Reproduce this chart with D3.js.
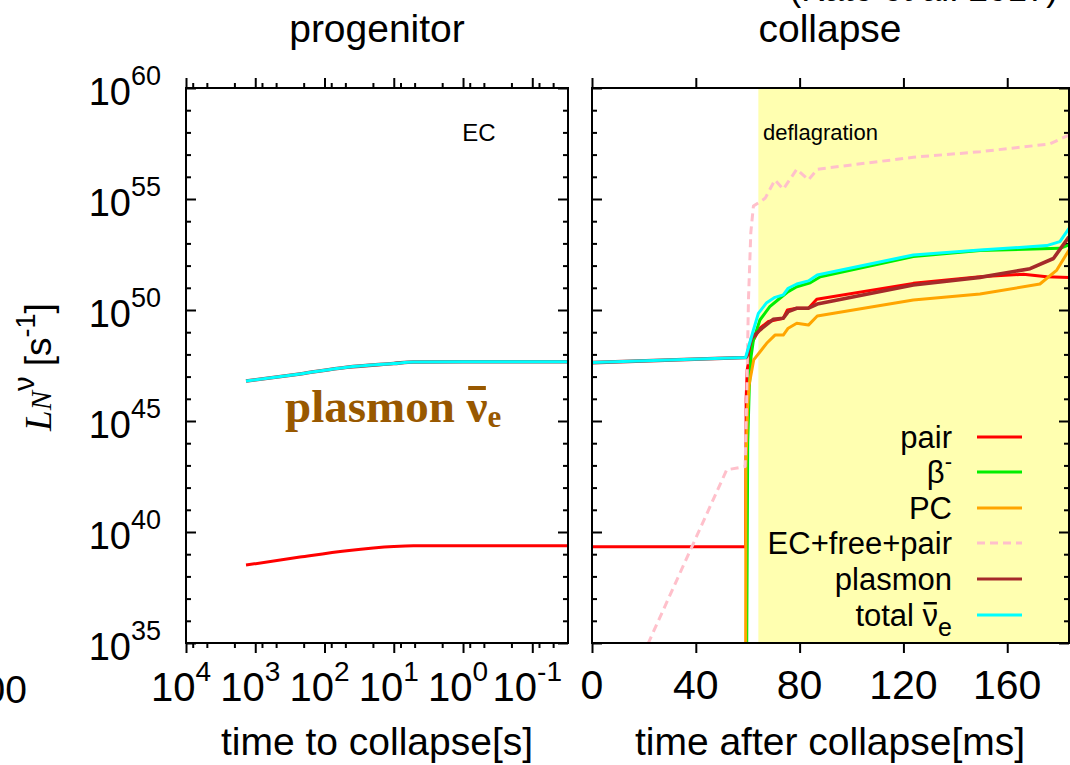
<!DOCTYPE html>
<head>
  <meta charset="utf-8">
  <title>anti-nu_e luminosity</title>
  <style>
    body { margin: 0; background: #fff; }
    svg { display: block; }
    text { font-family: "Liberation Sans", Arial, sans-serif; fill: #000; }
    .serif { font-family: "Liberation Serif", "Times New Roman", serif; }
  </style>
</head>

<body>
  <div id="chart"></div>

  <script src="https://cdn.jsdelivr.net/npm/d3@7"></script>
  <script type="text/javascript">

    // ---------------- data (luminosities given as log10 of L [s^-1]) ----------------
    // progenitor panel, x = time to collapse [s]
    let progTime     = [1360, 226, 47.5, 10, 5.2, 1, 0.0305];
    let progPair     = [38.51, 38.87, 39.16, 39.35, 39.38, 39.38, 39.38];
    let progPlasmon  = [46.80, 47.12, 47.42, 47.59, 47.66, 47.67, 47.67];
    let progTotal    = [46.80, 47.12, 47.42, 47.59, 47.66, 47.67, 47.67];

    // collapse panel, [time after collapse (ms), log10 L]
    let pairCol = [[0, 39.34], [59.2, 39.34], [59.4, 46.0], [59.8, 47.3], [61.5, 48.5], [64.7, 49.18],
                   [68.0, 49.48], [73.7, 49.63], [75.3, 50.0], [78.9, 50.08], [83.4, 50.08], [86.6, 50.48],
                   [123.8, 51.2], [149.5, 51.5], [166.2, 51.61], [175.2, 51.5], [183.8, 51.46]];
    let betaCol = [[59.6, 34.5], [60.0, 44.0], [60.6, 46.5], [61.3, 47.9], [62.2, 48.65], [64.7, 49.55],
                   [68.5, 50.15], [72.4, 50.53], [75.6, 50.83], [78.9, 51.05], [84.1, 51.23], [88.0, 51.5],
                   [123.8, 52.41], [149.5, 52.68], [180.3, 52.78], [183.8, 52.93]];
    let pcCol   = [[59.2, 34.5], [59.3, 42.9], [59.9, 45.5], [60.5, 46.6], [62.3, 47.75], [67.3, 48.5],
                   [70.5, 48.87], [73.7, 48.87], [75.6, 49.18], [78.9, 49.4], [83.4, 49.32], [86.8, 49.73],
                   [123.8, 50.45], [149.5, 50.72], [172.6, 51.17], [179.1, 51.8], [183.8, 52.7]];
    let ecCol   = [[19.5, 34.43], [51.9, 42.8], [59.0, 42.95], [59.6, 46.0], [60.3, 50.5], [61.2, 53.5],
                   [62.2, 54.68], [66.7, 55.03], [70.5, 55.86], [73.7, 55.44], [78.9, 56.34], [83.4, 55.86],
                   [86.8, 56.34], [123.8, 56.88], [149.5, 57.13], [176.4, 57.48], [183.8, 57.88]];
    let plasmonCol = [[0, 47.63], [59.2, 47.86], [59.6, 47.9], [61.5, 48.73], [64.7, 49.1], [69.8, 49.58],
                   [73.7, 49.63], [75.6, 49.93], [78.9, 50.08], [83.4, 50.08], [86.8, 50.27], [123.8, 51.13],
                   [149.5, 51.47], [168.8, 51.86], [177.8, 52.32], [183.8, 53.3]];
    let totalCol = [[0, 47.63], [59.2, 47.86], [62.2, 49.1], [64.1, 49.85], [67.3, 50.33], [70.5, 50.57],
                   [73.7, 50.68], [75.6, 50.98], [78.9, 51.17], [83.4, 51.31], [86.8, 51.58], [123.8, 52.48],
                   [149.5, 52.7], [175.2, 52.9], [180.3, 53.08], [183.8, 53.68]];

    let deflagStart = 64.1;   // ms, shaded region start
    let deflagEnd = 183.8;

    let yExpTicks = [35, 40, 45, 50, 55, 60];
    let progTickExp = [4, 3, 2, 1, 0, -1];
    let colTicks = [0, 40, 80, 120, 160];

    let legendNames = ["pair", "β", "PC", "EC+free+pair", "plasmon", "total"];
    let legendColors = ["#ff0000", "#00ee00", "#ffa500", "#ffc0cb", "#a52a2a", "#00ffff"];

    ////////////////////////////////////////////////////////////////////////////////////////////////////
    let pow = e => Math.pow(10, e);

    let svg = d3.select("#chart").append("svg")
       .attr("width", 1070)
       .attr("height", 765);

    let yTop = 88, yBot = 643;
    let y = d3.scaleLog().domain([1e35, 1e60]).range([yBot, yTop]);
    let xProg = d3.scaleLog().domain([1e4, 0.0305]).range([186, 568]);
    let xCol = d3.scaleLinear().domain([0, 183.8]).range([592, 1069]);

    // clip paths
    let defs = svg.append("defs");
    defs.append("clipPath").attr("id", "clipProg").append("rect")
        .attr("x", 186).attr("y", yTop).attr("width", 382).attr("height", yBot - yTop);
    defs.append("clipPath").attr("id", "clipCol").append("rect")
        .attr("x", 592).attr("y", yTop).attr("width", 477).attr("height", yBot - yTop);

    // yellow deflagration region
    svg.append("rect")
        .attr("x", xCol(deflagStart)).attr("y", yTop)
        .attr("width", xCol(deflagEnd) - xCol(deflagStart)).attr("height", yBot - yTop)
        .attr("fill", "#ffffb0");

    // y ticks every decade, long every 5 decades
    let yMinor = d3.range(35, 61).map(pow);
    function yTicks(xpos, dir) {
        let g = svg.append("g").attr("transform", "translate(" + xpos + ",0)");
        let axis = (dir > 0 ? d3.axisLeft(y) : d3.axisRight(y))
            .tickValues(yMinor).tickFormat("").tickSizeOuter(0)
            .tickSizeInner(-5);
        g.call(axis);
        g.selectAll(".tick line")
            .attr("x2", function(d) {
                let major = Math.round(Math.log10(d)) % 5 === 0;
                return dir * (major ? 10 : 5);
            })
            .attr("stroke", "#000").attr("stroke-width", 2);
        g.select(".domain").remove();
    }
    yTicks(186, 1); yTicks(568, -1); yTicks(592, 1); yTicks(1069, -1);

    // progenitor x ticks (major decades, minor at 2, 5, 8)
    let progMajor = progTickExp.map(pow);
    let progMinor = [];
    for (let k = -2; k <= 3; k++) for (let m of [2, 5, 8]) {
        let v = m * pow(k);
        if (v < 1e4 && v > 0.0305) progMinor.push(v);
    }
    function xTicks(scale, values, len, ypos, dir) {
        let g = svg.append("g").attr("transform", "translate(0," + ypos + ")");
        let axis = (dir > 0 ? d3.axisBottom(scale) : d3.axisTop(scale))
            .tickValues(values).tickFormat("").tickSizeOuter(0).tickSizeInner(-len);
        g.call(axis);
        g.selectAll(".tick line").attr("stroke", "#000").attr("stroke-width", 2);
        g.select(".domain").remove();
    }
    xTicks(xProg, progMajor, 10, yTop, 1);
    xTicks(xProg, progMajor, 10, yBot, -1);
    xTicks(xProg, progMinor, 5, yTop, 1);
    xTicks(xProg, progMinor, 5, yBot, -1);
    xTicks(xCol, colTicks, 10, yTop, 1);
    xTicks(xCol, colTicks, 10, yBot, -1);

    // lines
    let lineProg = d3.line().x(d => xProg(d[0])).y(d => y(pow(d[1]))).curve(d3.curveMonotoneX);
    let lineCol = d3.line().x(d => xCol(d[0])).y(d => y(pow(d[1])));

    let gProg = svg.append("g").attr("clip-path", "url(#clipProg)");
    let zipProg = arr => progTime.map((t, i) => [t, arr[i]]);
    gProg.append("path").attr("d", lineProg(zipProg(progPair)))
        .attr("fill", "none").attr("stroke", legendColors[0]).attr("stroke-width", 3);
    gProg.append("path").attr("d", lineProg(zipProg(progPlasmon)))
        .attr("fill", "none").attr("stroke", legendColors[4]).attr("stroke-width", 3.6);
    gProg.append("path").attr("d", lineProg(zipProg(progTotal)))
        .attr("fill", "none").attr("stroke", legendColors[5]).attr("stroke-width", 3);

    let gCol = svg.append("g").attr("clip-path", "url(#clipCol)");
    let colSeries = [pairCol, betaCol, pcCol, ecCol, plasmonCol, totalCol];
    colSeries.forEach((s, i) => {
        gCol.append("path").attr("d", lineCol(s))
            .attr("fill", "none")
            .attr("stroke", legendColors[i])
            .attr("stroke-width", i === 4 ? 3.6 : 3)
            .attr("stroke-dasharray", i === 3 ? "8,5" : null)
            .attr("stroke-linejoin", "round");
    });

    // frames
    svg.append("rect").attr("x", 186).attr("y", yTop).attr("width", 382).attr("height", yBot - yTop)
        .attr("fill", "none").attr("stroke", "#000").attr("stroke-width", 2);
    svg.append("rect").attr("x", 592).attr("y", yTop).attr("width", 477).attr("height", yBot - yTop)
        .attr("fill", "none").attr("stroke", "#000").attr("stroke-width", 2);

    // y tick labels
    yExpTicks.forEach(e => {
        let t = svg.append("text").attr("x", 161).attr("y", y(pow(e)) + 17)
            .attr("text-anchor", "end").style("font-size", "38px");
        t.append("tspan").text("10");
        t.append("tspan").attr("dy", -20).style("font-size", "27px").text(e);
    });

    // progenitor x tick labels
    progTickExp.forEach(e => {
        let t = svg.append("text").attr("x", xProg(pow(e)) - 5).attr("y", 701)
            .attr("text-anchor", "middle").style("font-size", "40px");
        t.append("tspan").text("10");
        t.append("tspan").attr("dy", -20).style("font-size", "28px").text(e);
    });

    // collapse x tick labels
    colTicks.forEach(v => {
        svg.append("text").attr("x", xCol(v)).attr("y", 699)
            .attr("text-anchor", "middle").style("font-size", "41px").text(v);
    });

    // partial label of a neighbouring panel
    svg.append("text").attr("x", 27).attr("y", 703).attr("text-anchor", "end")
        .style("font-size", "39px").text("100");

    // titles
    svg.append("text").attr("x", 377).attr("y", 42).attr("text-anchor", "middle")
        .style("font-size", "39px").text("progenitor");
    svg.append("text").attr("x", 830).attr("y", 42).attr("text-anchor", "middle")
        .style("font-size", "39px").text("collapse");
    svg.append("text").attr("x", 1058).attr("y", 1).attr("text-anchor", "end")
        .style("font-size", "35px").text("(Kato et al. 2017)");

    svg.append("text").attr("x", 377).attr("y", 755).attr("text-anchor", "middle")
        .style("font-size", "39px").text("time to collapse[s]");
    svg.append("text").attr("x", 830).attr("y", 755).attr("text-anchor", "middle")
        .style("font-size", "39px").text("time after collapse[ms]");

    // y axis title
    let yt = svg.append("text").attr("transform", "translate(51,367) rotate(-90)")
        .attr("text-anchor", "middle").style("font-size", "37px");
    yt.append("tspan").attr("class", "serif").style("font-style", "italic").text("L");
    yt.append("tspan").attr("class", "serif").style("font-style", "italic")
        .style("font-size", "29px").text("N");
    yt.append("tspan").style("font-size", "29px").attr("dy", -17).text("ν");
    yt.append("tspan").attr("dy", 17).text(" [s");
    yt.append("tspan").style("font-size", "27px").attr("dy", -16).text("-1");
    yt.append("tspan").attr("dy", 16).text("]");

    // panel annotations
    svg.append("text").attr("x", 479).attr("y", 141).attr("text-anchor", "middle")
        .style("font-size", "24px").text("EC");
    svg.append("text").attr("x", 763).attr("y", 140)
        .style("font-size", "22px").text("deflagration");

    // put a bar over character i of a text element (anti-neutrino)
    function addBar(textSel, i, baseline, rise, thick, color) {
        let ext = textSel.node().getExtentOfChar(i);
        svg.append("rect")
            .attr("x", ext.x + ext.width * 0.08).attr("y", baseline - rise)
            .attr("width", ext.width * 0.84).attr("height", thick)
            .attr("fill", color);
    }

    let pl = svg.append("text").attr("class", "serif").attr("x", 285).attr("y", 422)
        .style("font-size", "47px").style("font-weight", "bold").style("fill", "#985800");
    pl.append("tspan").text("plasmon \u03bd");
    pl.append("tspan").attr("dy", 5).style("font-size", "31px").text("e");
    addBar(pl, 8, 422, 36, 4, "#985800");

    // legend
    let legY = [437, 472, 508, 543, 579, 615];
    legendNames.forEach((name, i) => {
        let t = svg.append("text").attr("x", 952).attr("y", legY[i] + 11)
            .attr("text-anchor", "end").style("font-size", "31px");
        if (i === 1) {
            t.append("tspan").text("β");
            t.append("tspan").attr("dy", -14).style("font-size", "22px").text("-");
        } else if (i === 5) {
            t.append("tspan").text("total \u03bd");
            t.append("tspan").attr("dy", 10).style("font-size", "25px").text("e");
            addBar(t, 6, legY[i] + 11, 24, 2.5, "#000");
        } else {
            t.text(name);
        }
        svg.append("line").attr("x1", 977).attr("x2", 1022)
            .attr("y1", legY[i]).attr("y2", legY[i])
            .attr("stroke", legendColors[i]).attr("stroke-width", 3)
            .attr("stroke-dasharray", i === 3 ? "8,5" : null);
    });

  </script>

</body>
